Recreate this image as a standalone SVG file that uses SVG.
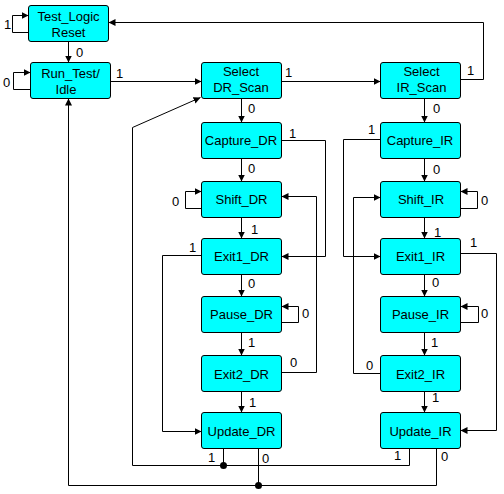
<svg xmlns="http://www.w3.org/2000/svg" width="504" height="494" viewBox="0 0 504 494">
<style>
.n rect{fill:#00FFFF;stroke:#000;stroke-width:1}
text{font-family:"Liberation Sans",Arial,sans-serif;font-size:13px;fill:#000}
.n text{text-anchor:middle}
.c path{fill:none;stroke:#000;stroke-width:1}
.c .a{marker-end:url(#arr)}
</style>
<defs>
<marker id="arr" viewBox="0 0 7 7" markerWidth="7" markerHeight="7" refX="7" refY="3.5" orient="auto" markerUnits="userSpaceOnUse">
<path d="M0,0 L7,3.5 L0,7 z" fill="#000"/>
</marker>
</defs>
<rect width="504" height="494" fill="#fff"/>
<g id="connectors" class="c">
<path class="a" d="M28.5,32.5 H12.5 V15.5 H28.5"/>
<path class="a" d="M68.5,41.5 V62.5"/>
<path class="a" d="M30.5,89.5 H13.5 V72.5 H30.5"/>
<path class="a" d="M110.5,81.5 H201.5"/>
<path class="a" d="M281.5,81.5 H380.5"/>
<path class="a" d="M460.5,79.5 H483.5 V22.5 H108.5"/>
<path class="a" d="M241.5,98.5 V122.5"/>
<path class="a" d="M424.5,98.5 V122.5"/>
<path class="a" d="M281.5,140.5 H325.5 V256.5 H281.5"/>
<path class="a" d="M241.5,158.5 V181.5"/>
<path class="a" d="M201.5,208.5 H185.5 V191.5 H201.5"/>
<path class="a" d="M241.5,217.5 V238.5"/>
<path class="a" d="M201.5,255.5 H162.5 V431.5 H201.5"/>
<path class="a" d="M241.5,274.5 V296.5"/>
<path class="a" d="M281.5,322.5 H298.5 V306.5 H281.5"/>
<path class="a" d="M241.5,332.5 V355.5"/>
<path class="a" d="M281.5,372.5 H316.5 V196.5 H281.5"/>
<path class="a" d="M241.5,391.5 V412.5"/>
<path d="M223.5,448.5 V465.5"/>
<path class="a" d="M409.5,448.5 V465.5 H132.5 V127.5 L200.5,97.5"/>
<path d="M258.5,448.5 V485.5"/>
<path class="a" d="M436.5,448.5 V485.5 H68.5 V98.5"/>
<path class="a" d="M380.5,139.5 H343.5 V256.5 H380.5"/>
<path class="a" d="M424.5,158.5 V181.5"/>
<path class="a" d="M460.5,208.5 H477.5 V191.5 H460.5"/>
<path class="a" d="M424.5,217.5 V238.5"/>
<path class="a" d="M460.5,253.5 H496.5 V430.5 H460.5"/>
<path class="a" d="M424.5,274.5 V296.5"/>
<path class="a" d="M460.5,322.5 H478.5 V306.5 H460.5"/>
<path class="a" d="M424.5,332.5 V355.5"/>
<path class="a" d="M380.5,373.5 H353.5 V197.5 H380.5"/>
<path class="a" d="M424.5,391.5 V412.5"/>
<circle cx="223.5" cy="465.5" r="3.5" fill="#000"/>
<circle cx="258.5" cy="485.5" r="3.5" fill="#000"/>
</g>
<g id="labels">
<text x="4" y="29">1</text>
<text x="76" y="57">0</text>
<text x="3" y="87">0</text>
<text x="116" y="78">1</text>
<text x="285" y="77">1</text>
<text x="248" y="112.5">0</text>
<text x="467" y="75">1</text>
<text x="433" y="113">0</text>
<text x="289" y="137.5">1</text>
<text x="248" y="172.5">0</text>
<text x="172" y="206">0</text>
<text x="251" y="234">1</text>
<text x="189" y="252">1</text>
<text x="248" y="288">0</text>
<text x="302" y="318">0</text>
<text x="248" y="346.5">1</text>
<text x="290" y="366.5">0</text>
<text x="249" y="406.5">1</text>
<text x="208" y="462">1</text>
<text x="262" y="462.5">0</text>
<text x="394" y="460">1</text>
<text x="441" y="461">0</text>
<text x="368" y="134">1</text>
<text x="433" y="174">0</text>
<text x="481" y="205">0</text>
<text x="434" y="236.5">1</text>
<text x="470" y="247">1</text>
<text x="432" y="287">0</text>
<text x="481" y="318">0</text>
<text x="431" y="346.5">1</text>
<text x="366" y="370">0</text>
<text x="432" y="402">1</text>
</g>
<g id="Test_Logic_Reset" class="n"><rect x="28.5" y="5.5" width="80" height="36" rx="2.5"/><text x="68.5" y="21">Test_Logic</text><text x="68.5" y="37">Reset</text></g>
<g id="Run_Test_Idle" class="n"><rect x="30.5" y="62.5" width="80" height="36" rx="2.5"/><text x="70.5" y="78">Run_Test/</text><text x="66" y="93.5">Idle</text></g>
<g id="Select_DR_Scan" class="n"><rect x="201.5" y="62.5" width="80" height="36" rx="2.5"/><text x="241" y="76">Select</text><text x="241" y="92">DR_Scan</text></g>
<g id="Capture_DR" class="n"><rect x="201.5" y="122.5" width="80" height="36" rx="2.5"/><text x="241" y="144.5">Capture_DR</text></g>
<g id="Shift_DR" class="n"><rect x="201.5" y="181.5" width="80" height="36" rx="2.5"/><text x="241.5" y="203.5">Shift_DR</text></g>
<g id="Exit1_DR" class="n"><rect x="201.5" y="238.5" width="80" height="36" rx="2.5"/><text x="241.5" y="260.5">Exit1_DR</text></g>
<g id="Pause_DR" class="n"><rect x="201.5" y="296.5" width="80" height="36" rx="2.5"/><text x="241.5" y="319">Pause_DR</text></g>
<g id="Exit2_DR" class="n"><rect x="201.5" y="355.5" width="80" height="36" rx="2.5"/><text x="241.5" y="379">Exit2_DR</text></g>
<g id="Update_DR" class="n"><rect x="201.5" y="412.5" width="80" height="36" rx="2.5"/><text x="241.5" y="435.5">Update_DR</text></g>
<g id="Select_IR_Scan" class="n"><rect x="380.5" y="62.5" width="80" height="36" rx="2.5"/><text x="421.5" y="75.5">Select</text><text x="421.5" y="92">IR_Scan</text></g>
<g id="Capture_IR" class="n"><rect x="380.5" y="122.5" width="80" height="36" rx="2.5"/><text x="420" y="144.5">Capture_IR</text></g>
<g id="Shift_IR" class="n"><rect x="380.5" y="181.5" width="80" height="36" rx="2.5"/><text x="421" y="203.5">Shift_IR</text></g>
<g id="Exit1_IR" class="n"><rect x="380.5" y="238.5" width="80" height="36" rx="2.5"/><text x="420.5" y="260.5">Exit1_IR</text></g>
<g id="Pause_IR" class="n"><rect x="380.5" y="296.5" width="80" height="36" rx="2.5"/><text x="420.5" y="319">Pause_IR</text></g>
<g id="Exit2_IR" class="n"><rect x="380.5" y="355.5" width="80" height="36" rx="2.5"/><text x="420.5" y="379">Exit2_IR</text></g>
<g id="Update_IR" class="n"><rect x="380.5" y="412.5" width="80" height="36" rx="2.5"/><text x="420.5" y="435.5">Update_IR</text></g>
</svg>
